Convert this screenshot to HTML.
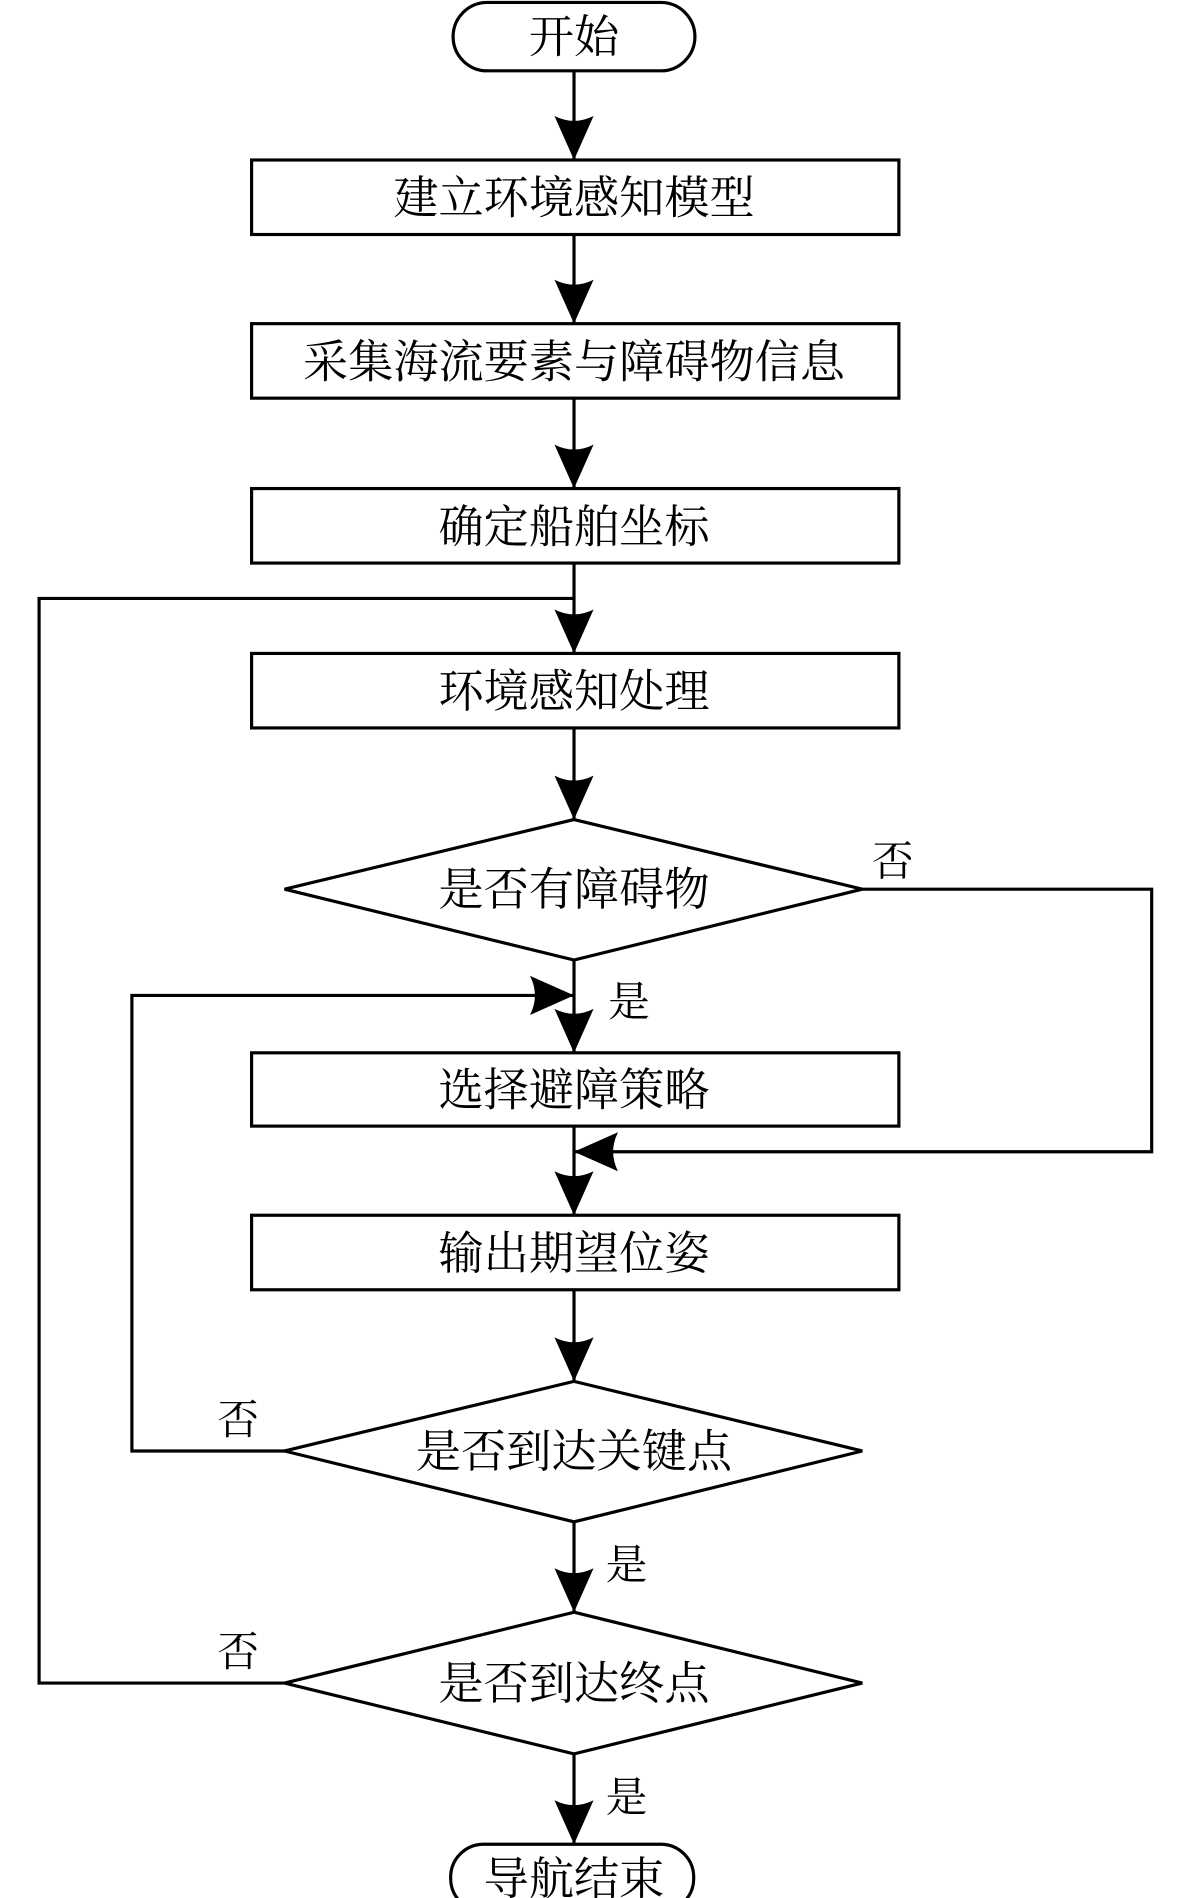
<!DOCTYPE html>
<html><head><meta charset="utf-8"><style>
html,body{margin:0;padding:0;background:#fff;}
svg{display:block}
text{font-family:"Liberation Serif","Noto Serif CJK SC",serif;fill:#000}
</style></head><body>
<svg width="1181" height="1898" viewBox="0 0 967 1554" preserveAspectRatio="none" xmlns="http://www.w3.org/2000/svg">
<defs>
<path id="ad" d="M0,0 L-16,-36 Q0,-28 16,-36 Z" fill="#000"/>
</defs>
<g fill="none" stroke="#000" stroke-width="2.6">
<rect x="371" y="2" width="198" height="56" rx="28"/>
<rect x="206" y="131" width="530" height="61"/>
<rect x="206" y="265" width="530" height="61"/>
<rect x="206" y="400" width="530" height="61"/>
<rect x="206" y="535" width="530" height="61"/>
<rect x="206" y="862" width="530" height="60"/>
<rect x="206" y="995" width="530" height="61"/>
<rect x="369" y="1510" width="199" height="55" rx="27"/>
<polygon points="470,671 706,728 470,786 233,728"/>
<polygon points="470,1131 706,1188 470,1246 233,1188"/>
<polygon points="470,1320 706,1378 470,1436 233,1378"/>
<path d="M470,58V131 M470,192V265 M470,326V400 M470,461V535 M470,596V671 M470,786V862 M470,922V995 M470,1056V1131 M470,1246V1320 M470,1436V1510"/>
<path d="M470,490H32V1378H233"/>
<path d="M233,1188H108V815H470"/>
<path d="M706,728H943V943H470"/>
</g>
<use href="#ad" transform="translate(470,131)"/>
<use href="#ad" transform="translate(470,265)"/>
<use href="#ad" transform="translate(470,400)"/>
<use href="#ad" transform="translate(470,535)"/>
<use href="#ad" transform="translate(470,671)"/>
<use href="#ad" transform="translate(470,862)"/>
<use href="#ad" transform="translate(470,995)"/>
<use href="#ad" transform="translate(470,1131)"/>
<use href="#ad" transform="translate(470,1320)"/>
<use href="#ad" transform="translate(470,1510)"/>
<use href="#ad" transform="translate(470,815) rotate(-90)"/>
<use href="#ad" transform="translate(470,943) rotate(90)"/>
<g font-size="37" text-anchor="middle">
<text x="470" y="43">开始</text>
<text x="470" y="175">建立环境感知模型</text>
<text x="470" y="309">采集海流要素与障碍物信息</text>
<text x="470" y="444">确定船舶坐标</text>
<text x="470" y="579">环境感知处理</text>
<text x="470" y="741">是否有障碍物</text>
<text x="470" y="905">选择避障策略</text>
<text x="470" y="1039">输出期望位姿</text>
<text x="470" y="1201">是否到达关键点</text>
<text x="470" y="1391">是否到达终点</text>
<text x="470" y="1551">导航结束</text>
</g>
<g font-size="34" text-anchor="middle">
<text x="731" y="717">否</text>
<text x="515" y="832">是</text>
<text x="195" y="1174">否</text>
<text x="513" y="1293">是</text>
<text x="195" y="1364">否</text>
<text x="513" y="1483">是</text>
</g>
</svg>
</body></html>
